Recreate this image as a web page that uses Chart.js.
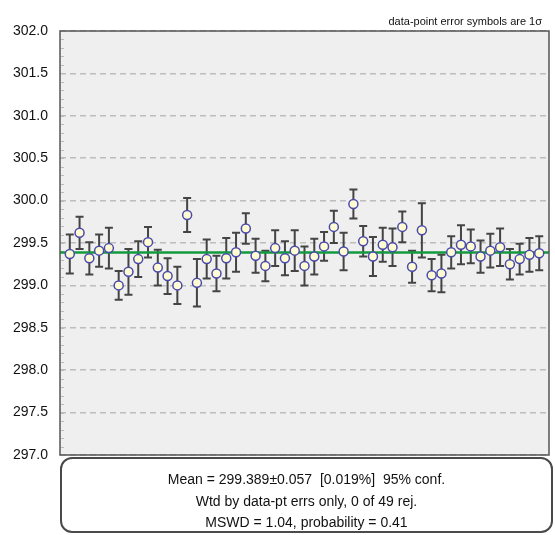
<!DOCTYPE html>
<html>
<head>
<meta charset="utf-8">
<script src="https://cdn.jsdelivr.net/npm/chart.js@4.4.1/dist/chart.umd.min.js"></script>
<style>
  body { margin: 0; background: #fff; }
  #wrap { position: relative; width: 555px; height: 535px; }
  #note {
    position: absolute; right: 13px; top: 15px;
    font: 11px "Liberation Sans", Arial, sans-serif; color: #111;
  }
  #stats {
    position: absolute; left: 60px; top: 457px; width: 493px; height: 76px;
    border: 2px solid #4a4a4a; border-radius: 12px; background: #fff;
    font: 14px "Liberation Sans", Arial, sans-serif; color: #111;
    text-align: center; line-height: 21.5px; padding-top: 10px; box-sizing: border-box;
  }
</style>
</head>
<body>
<div id="wrap">
  <canvas id="mswdChart" width="555" height="535"></canvas>
  <div id="note">data-point error symbols are 1σ</div>
  <div id="stats">
    <div>Mean = 299.389±0.057&nbsp; [0.019%]&nbsp; 95% conf.</div>
    <div>Wtd by data-pt errs only, 0 of 49 rej.</div>
    <div>MSWD = 1.04, probability = 0.41</div>
  </div>
</div>
<script>
// measured values (1 sigma errors)
const ages = [
  299.37, 299.62, 299.32, 299.41, 299.44, 299.0, 299.16, 299.31, 299.51, 299.21,
  299.11, 299.0, 299.83, 299.03, 299.31, 299.14, 299.32, 299.39, 299.67, 299.35,
  299.23, 299.44, 299.32, 299.41, 299.23, 299.34, 299.46, 299.69, 299.4, 299.96,
  299.52, 299.34, 299.48, 299.45, 299.69, 299.22, 299.65, 299.12, 299.14, 299.39,
  299.48, 299.46, 299.34, 299.41, 299.45, 299.25, 299.31, 299.36, 299.38,
];
const sigmas = [
  0.23, 0.19, 0.19, 0.19, 0.24, 0.17, 0.27, 0.21, 0.18, 0.21,
  0.21, 0.22, 0.2, 0.28, 0.23, 0.21, 0.24, 0.23, 0.18, 0.2,
  0.18, 0.21, 0.2, 0.24, 0.23, 0.21, 0.17, 0.19, 0.22, 0.17,
  0.18, 0.23, 0.2, 0.22, 0.18, 0.19, 0.32, 0.19, 0.22, 0.19,
  0.23, 0.2, 0.19, 0.2, 0.22, 0.18, 0.18, 0.2, 0.2,
];
const weightedMean = 299.389;
const yTicks = [297, 297.5, 298, 298.5, 299, 299.5, 300, 300.5, 301, 301.5, 302];

const points = ages.map((v, i) => ({ x: i + 1, y: v }));

const plotDecor = {
  id: "plotDecor",
  beforeDraw(chart) {
    const { ctx, chartArea: a } = chart;
    ctx.save();
    ctx.fillStyle = "#efefef";
    ctx.fillRect(a.left, a.top, a.right - a.left, a.bottom - a.top);
    ctx.restore();
  },
  beforeDatasetsDraw(chart) {
    const { ctx, scales } = chart;
    const ys = scales.y;
    // minor ticks on the left edge
    ctx.save();
    ctx.strokeStyle = "#bbb";
    ctx.lineWidth = 1;
    for (let v = 297.1; v < 302; v += 0.1) {
      const py = Math.round(ys.getPixelForValue(v)) + 0.5;
      ctx.beginPath();
      ctx.moveTo(chart.chartArea.left + 1, py);
      ctx.lineTo(chart.chartArea.left + 4, py);
      ctx.stroke();
    }
    // error bars
    ctx.strokeStyle = "#444";
    ctx.lineWidth = 2;
    ages.forEach((v, i) => {
      const px = scales.x.getPixelForValue(i + 1);
      const top = ys.getPixelForValue(v + sigmas[i]);
      const bot = ys.getPixelForValue(v - sigmas[i]);
      ctx.beginPath();
      ctx.moveTo(px, top);
      ctx.lineTo(px, bot);
      ctx.moveTo(px - 4, top);
      ctx.lineTo(px + 4, top);
      ctx.moveTo(px - 4, bot);
      ctx.lineTo(px + 4, bot);
      ctx.stroke();
    });
    ctx.restore();
  },
  afterDraw(chart) {
    const { ctx, chartArea: a } = chart;
    ctx.save();
    ctx.strokeStyle = "#555";
    ctx.lineWidth = 1.5;
    ctx.strokeRect(a.left, a.top, a.right - a.left, a.bottom - a.top);
    ctx.restore();
  },
};

new Chart(document.getElementById("mswdChart"), {
  type: "scatter",
  data: {
    datasets: [
      {
        label: "Ages",
        data: points,
        order: 0,
        pointRadius: 4.5,
        pointBorderWidth: 1.5,
        borderColor: "#4a4aab",
        backgroundColor: "#fffbd2",
      },
      {
        type: "line",
        label: "Weighted mean",
        data: [{ x: 0, y: weightedMean }, { x: 50, y: weightedMean }],
        order: 1,
        borderColor: "#139a3e",
        borderWidth: 2.5,
        pointRadius: 0,
      },
    ],
  },
  options: {
    responsive: false,
    animation: false,
    layout: { padding: { top: 31, bottom: 80, right: 3, left: 0 } },
    scales: {
      x: { type: "linear", min: 0, max: 50, display: false },
      y: {
        min: 297,
        max: 302,
        afterFit: (s) => { s.width = 60; },
        afterBuildTicks: (s) => { s.ticks = yTicks.map((v) => ({ value: v })); },
        ticks: {
          padding: 12,
          color: "#111",
          font: { family: "'Liberation Sans', Arial, sans-serif", size: 14 },
          callback: (v) => Number(v).toFixed(1),
        },
        grid: { color: "#bdbdbd", lineWidth: 1.5, drawTicks: false },
        border: { display: false, dash: [6, 4] },
      },
    },
    plugins: {
      legend: { display: false },
      tooltip: { enabled: false },
    },
  },
  plugins: [plotDecor],
});
</script>
</body>
</html>
